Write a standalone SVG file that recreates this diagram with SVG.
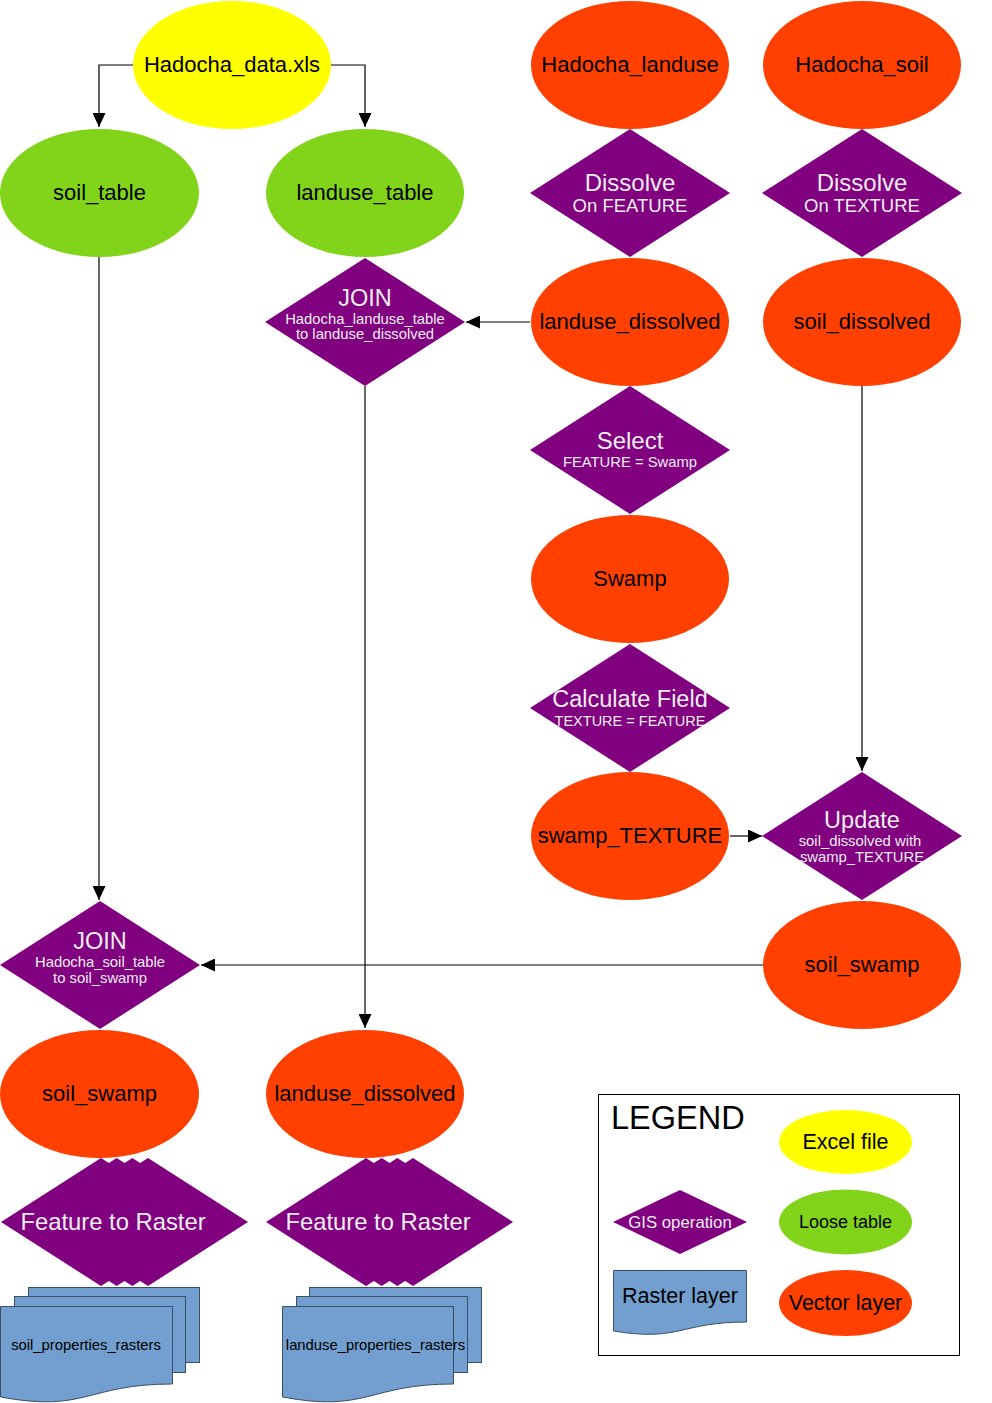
<svg xmlns="http://www.w3.org/2000/svg" width="992" height="1403" viewBox="0 0 992 1403">
<defs>
<marker id="arr" markerUnits="userSpaceOnUse" markerWidth="14" markerHeight="13" refX="14" refY="6.5" orient="auto">
<path d="M0,0 L14,6.5 L0,13 z" fill="#000"/>
</marker>
<style>
.xls{fill:#ffff00}
.tbl{fill:#81d41a}
.vec{fill:#ff4000}
.op{fill:#800080}
.ras{fill:#729fcf;stroke:#3a4f66;stroke-width:1}
text{font-family:"Liberation Sans",Arial,sans-serif;text-anchor:middle}
.lbl{font-size:22px;fill:#000}
.t1{font-size:23.5px;fill:#eeeeee}
.t2{font-size:18.5px;fill:#eeeeee}
.t3{font-size:14.8px;fill:#eeeeee}
.con{fill:none;stroke:#000;stroke-width:1.2}
</style>
</defs>
<rect width="992" height="1403" fill="#fff"/>

<g id="connectors">
<path class="con" d="M133,65 H99 V127" marker-end="url(#arr)"/>
<path class="con" d="M331,65 H365 V127" marker-end="url(#arr)"/>
<path class="con" d="M99,257 V900" marker-end="url(#arr)"/>
<path class="con" d="M530,322 H466" marker-end="url(#arr)"/>
<path class="con" d="M365,386 V1028" marker-end="url(#arr)"/>
<path class="con" d="M862,386 V771" marker-end="url(#arr)"/>
<path class="con" d="M730,836 H762" marker-end="url(#arr)"/>
<path class="con" d="M763,965 H201" marker-end="url(#arr)"/>
</g>

<g id="hadocha_data_xls">
<ellipse class="xls" cx="232" cy="65" rx="99" ry="64"/>
<text class="lbl" x="232" y="72">Hadocha_data.xls</text>
</g>
<g id="hadocha_landuse">
<ellipse class="vec" cx="630" cy="65" rx="99" ry="64"/>
<text class="lbl" x="630" y="72">Hadocha_landuse</text>
</g>
<g id="hadocha_soil">
<ellipse class="vec" cx="862" cy="65" rx="99" ry="64"/>
<text class="lbl" x="862" y="72">Hadocha_soil</text>
</g>
<g id="soil_table">
<ellipse class="tbl" cx="99.5" cy="193" rx="99.5" ry="64"/>
<text class="lbl" x="99.5" y="200">soil_table</text>
</g>
<g id="landuse_table">
<ellipse class="tbl" cx="365" cy="193" rx="99" ry="64"/>
<text class="lbl" x="365" y="200">landuse_table</text>
</g>
<g id="dissolve_feature">
<polygon class="op" points="630,129 730,193 630,257 530,193"/>
<text class="t1" x="630" y="191" style="font-size:24px">Dissolve</text>
<text class="t2" x="630" y="212">On FEATURE</text>
</g>
<g id="dissolve_texture">
<polygon class="op" points="862,129 962,193 862,257 762,193"/>
<text class="t1" x="862" y="191" style="font-size:24px">Dissolve</text>
<text class="t2" x="862" y="212">On TEXTURE</text>
</g>
<g id="join_landuse">
<polygon class="op" points="365,258 465,322 365,386 265,322"/>
<text class="t1" x="365" y="306">JOIN</text>
<text class="t3" x="365" y="324">Hadocha_landuse_table</text>
<text class="t3" x="365" y="339">to landuse_dissolved</text>
</g>
<g id="landuse_dissolved">
<ellipse class="vec" cx="630" cy="322" rx="99" ry="64"/>
<text class="lbl" x="630" y="329">landuse_dissolved</text>
</g>
<g id="soil_dissolved">
<ellipse class="vec" cx="862" cy="322" rx="99" ry="64"/>
<text class="lbl" x="862" y="329">soil_dissolved</text>
</g>
<g id="select">
<polygon class="op" points="630,386 730,450 630,514 530,450"/>
<text class="t1" x="630" y="449" style="font-size:24px">Select</text>
<text class="t3" x="630" y="467">FEATURE = Swamp</text>
</g>
<g id="swamp">
<ellipse class="vec" cx="630" cy="579" rx="99" ry="64"/>
<text class="lbl" x="630" y="586">Swamp</text>
</g>
<g id="calculate_field">
<polygon class="op" points="630,644 730,708 630,772 530,708"/>
<text class="t1" x="630" y="707">Calculate Field</text>
<text class="t3" x="630" y="726" style="font-size:14.5px">TEXTURE = FEATURE</text>
</g>
<g id="swamp_texture">
<ellipse class="vec" cx="630" cy="836" rx="99" ry="64"/>
<text class="lbl" x="630" y="843">swamp_TEXTURE</text>
</g>
<g id="update">
<polygon class="op" points="862,772 962,836 862,900 762,836"/>
<text class="t1" x="862" y="828">Update</text>
<text class="t3" x="860" y="846">soil_dissolved with</text>
<text class="t3" x="862" y="862">swamp_TEXTURE</text>
</g>
<g id="soil_swamp_vec">
<ellipse class="vec" cx="862" cy="965" rx="99" ry="64"/>
<text class="lbl" x="862" y="972">soil_swamp</text>
</g>
<g id="join_soil">
<polygon class="op" points="100,901 200,965 100,1029 0,965"/>
<text class="t1" x="100" y="949">JOIN</text>
<text class="t3" x="100" y="967">Hadocha_soil_table</text>
<text class="t3" x="100" y="983">to soil_swamp</text>
</g>
<g id="soil_swamp">
<ellipse class="vec" cx="99.5" cy="1094" rx="99.5" ry="64"/>
<text class="lbl" x="99.5" y="1101">soil_swamp</text>
</g>
<g id="landuse_dissolved_2">
<ellipse class="vec" cx="365" cy="1094" rx="99" ry="64"/>
<text class="lbl" x="365" y="1101">landuse_dissolved</text>
</g>
<g id="feature_to_raster_soil">
<polygon class="op" points="101,1158 201,1222 101,1286 1,1222"/>
<polygon class="op" points="116.7,1158 216.7,1222 116.7,1286 16.7,1222"/>
<polygon class="op" points="132.3,1158 232.3,1222 132.3,1286 32.3,1222"/>
<polygon class="op" points="148,1158 248,1222 148,1286 48,1222"/>
<text class="t1" x="113" y="1230" style="font-size:23.8px">Feature to Raster</text>
</g>
<g id="feature_to_raster_landuse">
<polygon class="op" points="366,1158 466,1222 366,1286 266,1222"/>
<polygon class="op" points="381.7,1158 481.7,1222 381.7,1286 281.7,1222"/>
<polygon class="op" points="397.3,1158 497.3,1222 397.3,1286 297.3,1222"/>
<polygon class="op" points="413,1158 513,1222 413,1286 313,1222"/>
<text class="t1" x="378" y="1230" style="font-size:23.8px">Feature to Raster</text>
</g>
<g id="soil_properties_rasters">
<rect class="ras" x="28.5" y="1287.5" width="171" height="75"/>
<rect class="ras" x="14.5" y="1296.5" width="171" height="76"/>
<path class="ras" d="M0.5,1306.5 H172.5 V1384 C86.5,1384 86.5,1413 0.5,1397 Z"/>
<text x="86" y="1350" style="font-size:14.8px;fill:#000">soil_properties_rasters</text>
</g>
<g id="landuse_properties_rasters">
<rect class="ras" x="309.5" y="1287.5" width="172" height="75"/>
<rect class="ras" x="296.5" y="1296.5" width="171" height="76"/>
<path class="ras" d="M282.5,1306.5 H453.5 V1384 C368,1384 368,1413 282.5,1397 Z"/>
<text x="375.5" y="1350" style="font-size:14.8px;fill:#000">landuse_properties_rasters</text>
</g>
<g id="legend">
<rect x="598.5" y="1094.5" width="361" height="261" fill="none" stroke="#000" stroke-width="1"/>
<text x="611" y="1129" style="font-size:32.5px;fill:#000;text-anchor:start">LEGEND</text>
<ellipse class="xls" cx="845.5" cy="1142" rx="66.5" ry="32"/>
<text x="845.5" y="1149" style="font-size:21.5px;fill:#000">Excel file</text>
<polygon class="op" points="680,1190 747,1222 680,1254 613,1222"/>
<text x="680" y="1228" style="font-size:16.8px;fill:#eeeeee">GIS operation</text>
<ellipse class="tbl" cx="845.5" cy="1222" rx="66.5" ry="32.5"/>
<text x="845.5" y="1228" style="font-size:18px;fill:#000">Loose table</text>
<path class="ras" d="M613.5,1270.5 H746.5 V1322 C680,1322 680,1342 613.5,1331 Z"/>
<text x="680" y="1303" style="font-size:21.5px;fill:#000">Raster layer</text>
<ellipse class="vec" cx="845.5" cy="1303" rx="66.5" ry="33"/>
<text x="845.5" y="1310" style="font-size:21.5px;fill:#000">Vector layer</text>
</g>
</svg>
